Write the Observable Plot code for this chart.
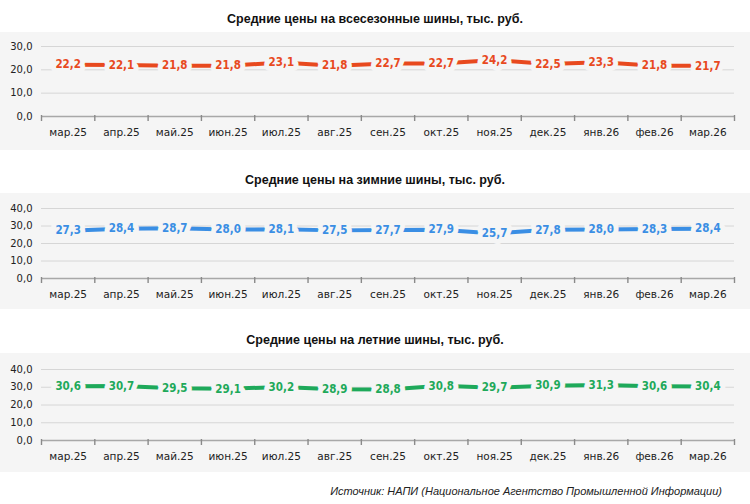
<!DOCTYPE html>
<html>
<head>
<meta charset="utf-8">
<script src="https://cdn.jsdelivr.net/npm/d3@7"></script>
<script src="https://cdn.jsdelivr.net/npm/@observablehq/plot@0.6"></script>
<style>
  html, body { margin:0; padding:0; background:#fff; }
  #root { position:relative; width:750px; height:504px; overflow:hidden; }
  .title { position:absolute; left:0; width:750px; text-align:center; font:bold 12.5px "Liberation Sans", Arial, sans-serif; color:#111; line-height:16px; }
  .panel { position:absolute; left:0; }
  .caption { position:absolute; right:28px; font:italic 11px "Liberation Sans", Arial, sans-serif; color:#222; line-height:14px; }
</style>
</head>
<body>
<div id="root"></div>
<script>
const months = ["мар.25","апр.25","май.25","июн.25","июл.25","авг.25","сен.25","окт.25","ноя.25","дек.25","янв.26","фев.26","мар.26"];
const allSeason = [22.2,22.1,21.8,21.8,23.1,21.8,22.7,22.7,24.2,22.5,23.3,21.8,21.7];
const winter = [27.3,28.4,28.7,28.0,28.1,27.5,27.7,27.9,25.7,27.8,28.0,28.3,28.4];
const summer = [30.6,30.7,29.5,29.1,30.2,28.9,28.8,30.8,29.7,30.9,31.3,30.6,30.4];
const ticks30 = [0,10,20,30];
const ticks40 = [0,10,20,30,40];
const titles = [
  "Средние цены на всесезонные шины, тыс. руб.",
  "Средние цены на зимние шины, тыс. руб.",
  "Средние цены на летние шины, тыс. руб."
];
const caption = "Источник: НАПИ (Национальное Агентство Промышленной Информации)";

const fmt = v => v.toFixed(1).replace(".", ",");
const BG = "#f5f5f5";
const root = document.getElementById("root");

function panel(values, color, ticks, top, height, mt, mb, titleTop, title) {
  const t = document.createElement("div");
  t.className = "title";
  t.style.top = titleTop + "px";
  t.textContent = title;
  root.appendChild(t);

  const data = values.map((v, i) => ({x: i + 0.5, v, m: months[i]}));
  const bounds = d3.range(months.length + 1);
  const yMax = d3.max(ticks);
  const plotH = height - mt - mb;
  const chart = Plot.plot({
    width: 750, height,
    marginLeft: 41, marginRight: 16, marginTop: mt, marginBottom: mb,
    style: {background: BG, fontFamily: "DejaVu Sans", fontSize: "10px", color: "#222"},
    x: {domain: [0, months.length], axis: null},
    y: {domain: [0, yMax], axis: null},
    marks: [
      Plot.gridY(ticks.filter(t => t > 0), {stroke: "#d6d6d6", strokeOpacity: 1}),
      Plot.axisY(ticks, {tickSize: 0, tickPadding: 9, tickFormat: fmt, fontSize: 10, label: null}),
      Plot.ruleY([0], {stroke: "#a8a8a8", strokeWidth: 1.5}),
      Plot.tickX(bounds, {x: d => d, stroke: "#8a8a8a", strokeWidth: 1.4, insetTop: plotH - 1, insetBottom: -5}),
      Plot.axisX(data.map(d => d.x), {tickSize: 0, tickPadding: 12, tickFormat: d => months[Math.floor(d)], fontSize: 10.5, label: null}),
      Plot.line(data, {x: "x", y: "v", stroke: color, strokeWidth: 4}),
      Plot.text(data, {x: "x", y: "v", text: d => fmt(d.v), fill: color, stroke: BG, strokeWidth: 10,
        fontWeight: "bold", fontSize: 11.5, fontFamily: "DejaVu Sans Condensed"})
    ]
  });
  const wrap = document.createElement("div");
  wrap.className = "panel";
  wrap.style.top = top + "px";
  wrap.appendChild(chart);
  root.appendChild(wrap);
}

panel(allSeason, "#e8491e", ticks30, 32, 118, 14, 34, 11, titles[0]);
panel(winter, "#3a8ee4", ticks40, 193, 116, 15, 31, 172, titles[1]);
panel(summer, "#1ea95a", ticks40, 353, 119, 16, 32, 332, titles[2]);

const c = document.createElement("div");
c.className = "caption";
c.style.top = "484px";
c.textContent = caption;
root.appendChild(c);
</script>
</body>
</html>
